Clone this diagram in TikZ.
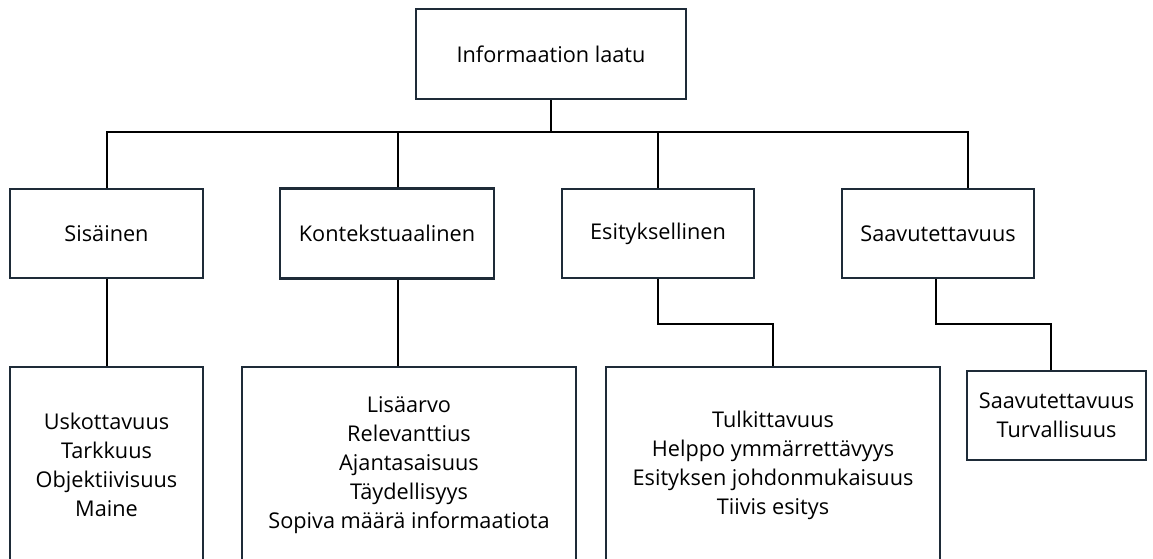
\documentclass[tikz,border=0pt]{standalone}
\usepackage{fontspec}
\setmainfont{Open Sans}
\usetikzlibrary{positioning}

\definecolor{boxline}{HTML}{1E2B38}
\newcommand\boxfont{\fontsize{21.7}{29}\selectfont}

\tikzset{
  box/.style={draw=boxline, line width=2.2pt, fill=white, align=center,
    inner sep=0pt, font=\boxfont},
  link/.style={line width=2pt, draw=black}
}

\begin{document}
\begin{tikzpicture}[x=1pt, y=1pt, on grid]
    \useasboundingbox (0,0) rectangle (1153,-558);
    \coordinate (bus) at (0,-131.5);

    % top
    \node[box, minimum width=270pt, minimum height=90pt] (I) at (551,-54) {Informaation laatu};

    % second row
    \node[box, minimum width=193pt, minimum height=89pt, below left=179.5pt and 444.5pt of I] (S) {Sisäinen};
    \node[box, minimum width=214pt, minimum height=90pt, right=280.5pt of S] (K) {Kontekstuaalinen};
    \node[box, minimum width=192pt, minimum height=89pt, right=271pt of K] (E) {Esityksellinen};
    \node[box, minimum width=192pt, minimum height=89pt, right=280pt of E] (A) {Saavutettavuus};

    % third row
    \node[box, minimum width=193pt, minimum height=196pt, below=231.5pt of S] (B1)
        {Uskottavuus\\Tarkkuus\\Objektiivisuus\\Maine};
    \node[box, minimum width=334pt, minimum height=196pt, right=302.5pt of B1] (B2)
        {Lisäarvo\\Relevanttius\\Ajantasaisuus\\Täydellisyys\\Sopiva määrä informaatiota};
    \node[box, minimum width=334pt, minimum height=196pt, right=364pt of B2] (B3)
        {Tulkittavuus\\Helppo ymmärrettävyys\\Esityksen johdonmukaisuus\\Tiivis esitys};
    \node[box, minimum width=179pt, minimum height=89pt, below right=182pt and 118.5pt of A] (B4)
        {Saavutettavuus\\Turvallisuus};

    % connectors
    \draw[link] (I.south) -- (I.south |- bus);
    \draw[link] (S.north) |- ([xshift=30pt]A.north |- bus) -- ([xshift=30pt]A.north);
    \draw[link] ([xshift=11pt]K.north) -- ([xshift=11pt]K.north |- bus);
    \draw[link] (E.north) -- (E.north |- bus);

    \draw[link] (S.south) -- (B1.north);
    \draw[link] ([xshift=11pt]K.south) -- ([xshift=11pt]K.south |- B2.north);
    \draw[link] (E.south) -- ++(0,-45) -| (B3.north);
    \draw[link] ([xshift=-2pt]A.south) -- ++(0,-45) -| ([xshift=-5.5pt]B4.north);
\end{tikzpicture}
\end{document}
